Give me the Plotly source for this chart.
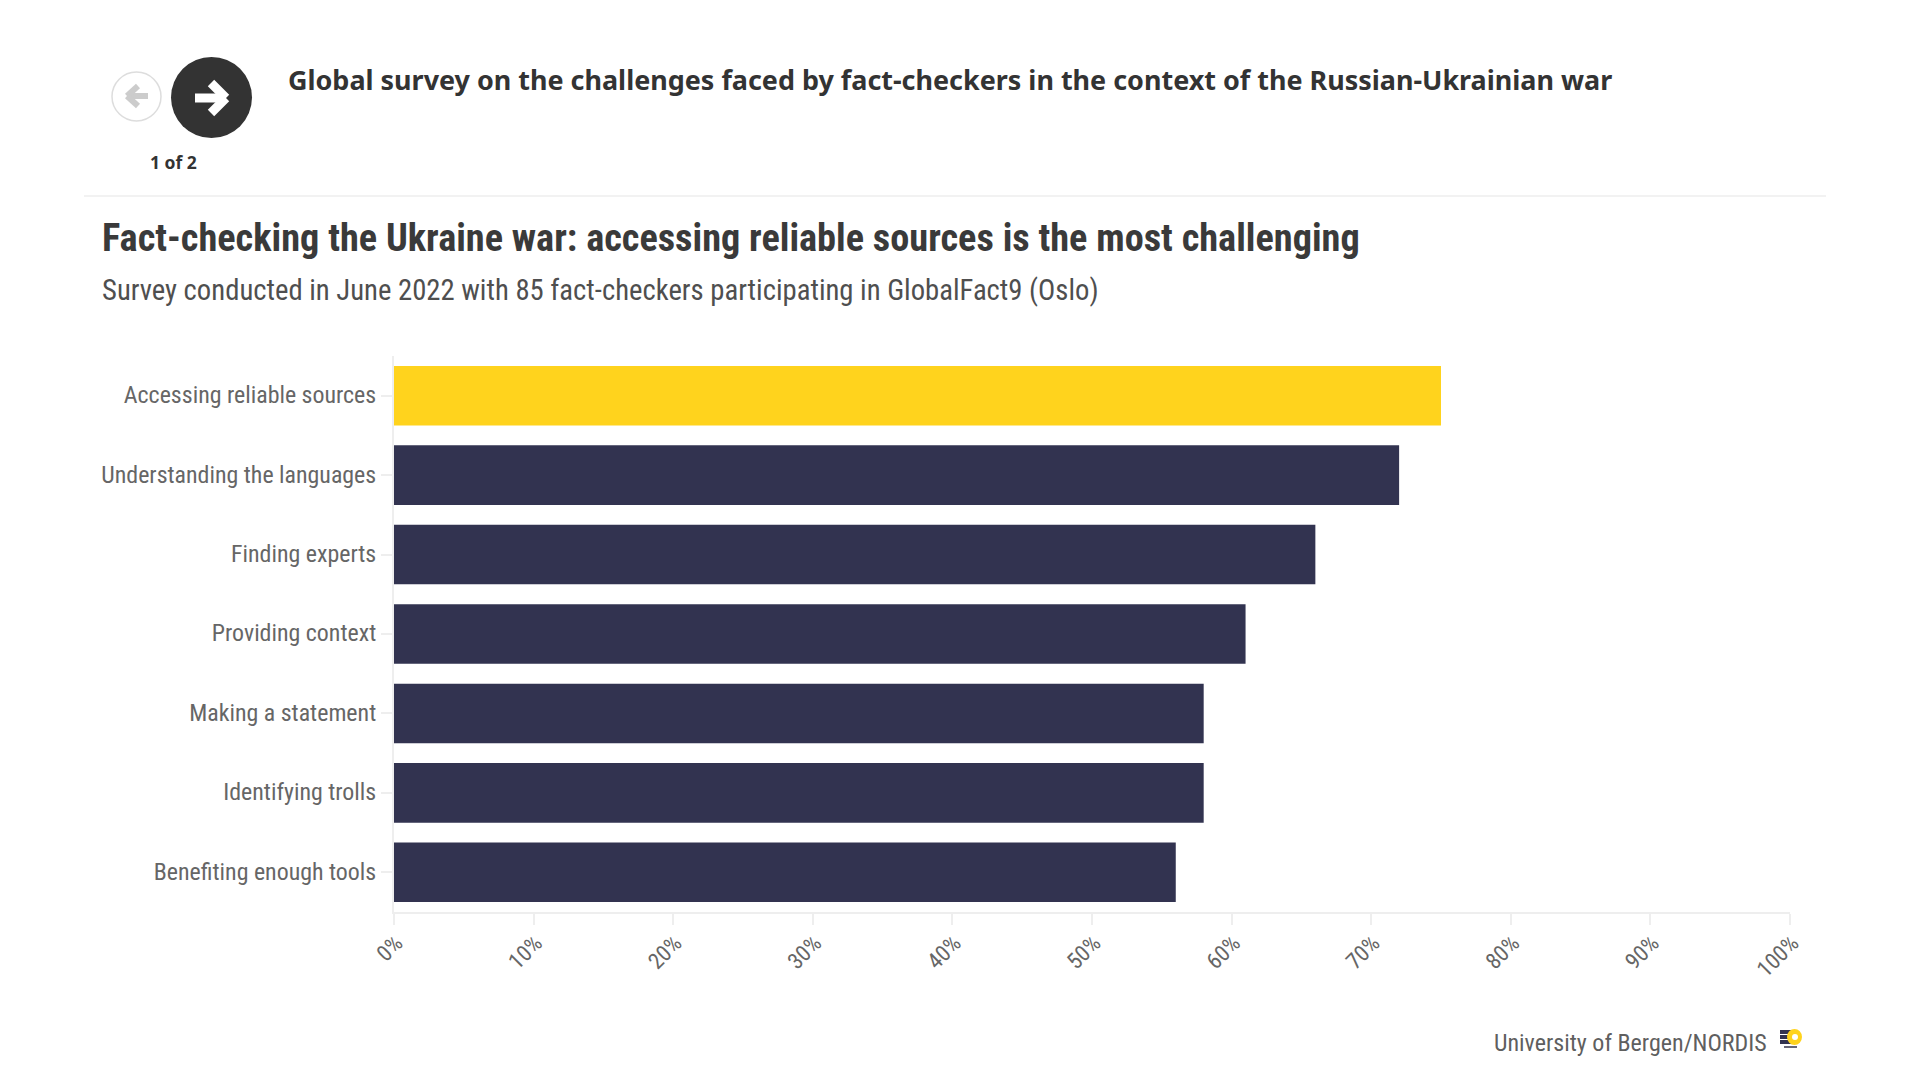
import plotly.graph_objects as go

categories = ["Accessing reliable sources", "Understanding the languages", "Finding experts",
              "Providing context", "Making a statement", "Identifying trolls", "Benefiting enough tools"]
values = [75, 72, 66, 61, 58, 58, 56]
bar_colors = ["#FFD31D", "#323350", "#323350", "#323350", "#323350", "#323350", "#323350"]
x_ticks = [0, 10, 20, 30, 40, 50, 60, 70, 80, 90, 100]

W, H = 1920, 1080
NARROW = "'Roboto Condensed', 'Liberation Sans Narrow', Roboto, sans-serif"
GREY = "#666666"

def px(x): return x / W
def py(y): return 1 - y / H

fig = go.Figure(go.Bar(
    x=values, y=categories, orientation="h",
    marker=dict(color=bar_colors, line=dict(width=0)),
    width=0.75, hoverinfo="skip",
))

def text(s, x, y, size, color, family, anchor="left", bold=False):
    fig.add_annotation(
        text=f"<b>{s}</b>" if bold else s, x=px(x), y=py(y), xref="paper", yref="paper",
        xanchor=anchor, yanchor="middle", showarrow=False,
        font=dict(size=size, color=color, family=family),
    )

text("Global survey on the challenges faced by fact-checkers in the context of the Russian-Ukrainian war",
     286, 79, 26.95, "#333333", "'Noto Sans', sans-serif", bold=True)
text("1 of 2", 173, 162, 17.5, "#333333", "'Noto Sans', sans-serif", anchor="center", bold=True)
text("Fact-checking the Ukraine war: accessing reliable sources is the most challenging",
     100, 237, 38.3, "#3a3a3a", NARROW, bold=True)
text("Survey conducted in June 2022 with 85 fact-checkers participating in GlobalFact9 (Oslo)",
     100, 290, 28.7, "#4f4f4f", NARROW)
text("University of Bergen/NORDIS", 1769, 1043, 24, "#5f5f5f", NARROW, anchor="right")

def circle(x0, y0, x1, y1, fill, line=None):
    fig.add_shape(type="circle", xref="paper", yref="paper",
                  x0=px(x0), x1=px(x1), y0=py(y0), y1=py(y1),
                  fillcolor=fill, line=dict(color=line or fill, width=1.5 if line else 0))

def seg(x0, y0, x1, y1, color, width):
    fig.add_shape(type="line", xref="paper", yref="paper",
                  x0=px(x0), x1=px(x1), y0=py(y0), y1=py(y1),
                  line=dict(color=color, width=width))

def rect(x0, y0, x1, y1, color):
    fig.add_shape(type="rect", xref="paper", yref="paper",
                  x0=px(x0), x1=px(x1), y0=py(y0), y1=py(y1),
                  fillcolor=color, line=dict(width=0))

# navigation buttons
circle(112, 72, 161, 121, "#ffffff", "#dddddd")
circle(171, 57, 252, 138, "#333333")
seg(128, 96, 148, 96, "#cccccc", 6)
seg(127, 96, 138, 86, "#cccccc", 6)
seg(127, 96, 138, 106, "#cccccc", 6)
seg(195, 98, 225, 98, "#ffffff", 9)
seg(226, 98, 211, 83, "#ffffff", 9)
seg(226, 98, 211, 113, "#ffffff", 9)

# divider
seg(84, 196, 1826, 196, "#eeeeee", 1.5)

# logo
for y in (1030, 1035, 1040):
    rect(1780, y, 1794, y + 4, "#323350")
rect(1784, 1046, 1797, 1048, "#666677")
circle(1787, 1029, 1802, 1045, "#FFD31D")
circle(1792, 1034, 1798, 1040, "#ffffff")

fig.update_layout(
    width=W, height=H, autosize=False,
    margin=dict(l=0, r=0, t=0, b=0, autoexpand=False),
    paper_bgcolor="#ffffff", plot_bgcolor="#ffffff", showlegend=False,
    bargap=0.25,
    xaxis=dict(
        domain=[px(394), px(1790)], range=[0, 100], tickvals=x_ticks, automargin=False,
        ticktext=[f"{v}%" for v in x_ticks], tickangle=-45,
        showgrid=False, zeroline=False, showline=True, linecolor="#eeeeee", linewidth=2,
        ticks="outside", ticklen=11, tickwidth=2, tickcolor="#eeeeee",
        ticklabelstandoff=-4, ticklabelshift=2,
        tickfont=dict(size=22.5, color=GREY, family=NARROW), fixedrange=True,
    ),
    yaxis=dict(
        domain=[py(912), py(356)], categoryorder="array", categoryarray=categories[::-1], automargin=False,
        showgrid=False, zeroline=False, showline=True, linecolor="#eeeeee", linewidth=2,
        ticks="outside", ticklen=11, tickwidth=2, tickcolor="#eeeeee",
        ticklabelstandoff=0, ticklabelshift=-1,
        tickfont=dict(size=23.9, color=GREY, family=NARROW), fixedrange=True,
    ),
)

fig.write_html("out.html", config={"displayModeBar": False},
               post_script="document.body.style.margin='0';")
